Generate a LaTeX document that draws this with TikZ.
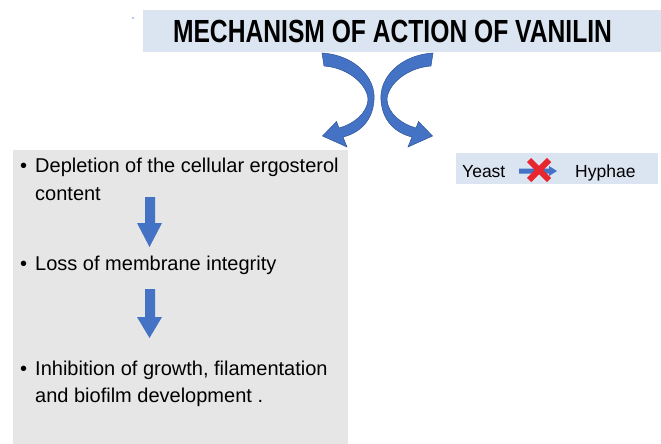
\documentclass[tikz,border=0pt]{standalone}
\usepackage{fontspec}
\setmainfont{Liberation Sans}
\definecolor{titlebg}{HTML}{DBE5F1}
\definecolor{graybg}{HTML}{E6E6E6}
\definecolor{arrowblue}{HTML}{4472C4}
\definecolor{arrowedge}{HTML}{2F5597}
\definecolor{xred}{HTML}{E8262E}
\tikzset{
  panel/.style={anchor=north west, inner sep=0pt, outer sep=0pt},
  bodytext/.style={anchor=base west, inner sep=0pt, font=\fontsize{20}{24}\selectfont},
  bullet/.style={anchor=base west, inner sep=0pt, font=\fontsize{20}{24}\selectfont},
  smalltext/.style={anchor=base west, inner sep=0pt, font=\fontsize{17.5}{20}\selectfont},
  blockarrow/.style={fill=arrowblue, draw=arrowedge, line width=0.5pt},
}
\begin{document}
\begin{tikzpicture}[x=1pt,y=-1pt]
\useasboundingbox (0,0) rectangle (661,444);
\fill[white] (0,0) rectangle (661,444);

% title
\node[panel, fill=titlebg, minimum width=518pt, minimum height=42pt] (titlebox) at (143,10) {};
\node[anchor=base, inner sep=0pt, font=\fontsize{32}{36}\selectfont\bfseries] (title) at (392.5,43) {\scalebox{0.77}[1]{MECHANISM OF ACTION OF VANILIN}};
\fill[arrowblue!50] (133,18) circle (1.1);

% curved arrows
\path[blockarrow] (322,53) .. controls (355,55) and (376,78) .. (374,100)
  .. controls (373,120) and (360,133) .. (343,137) -- (347,147) -- (322.5,136) -- (336.5,121.5) -- (339,128)
  .. controls (354,124) and (367,113) .. (368,100) .. controls (368,86) and (350,68) .. (324,66) -- cycle;
\begin{scope}[xshift=755pt, xscale=-1]
\path[blockarrow] (322,53) .. controls (355,55) and (376,78) .. (374,100)
  .. controls (373,120) and (360,133) .. (343,137) -- (347,147) -- (322.5,136) -- (336.5,121.5) -- (339,128)
  .. controls (354,124) and (367,113) .. (368,100) .. controls (368,86) and (350,68) .. (324,66) -- cycle;
\end{scope}

% left panel
\node[panel, fill=graybg, minimum width=335pt, minimum height=294pt] (graybox) at (13,150) {};
\node[bullet] (b1) at (20,172) {•};
\node[bodytext] (d1) at (35,172) {Depletion of the cellular ergosterol};
\node[bodytext] (d2) at (35,200) {content};
\node[bullet] (b2) at (20,270) {•};
\node[bodytext] (l1) at (35,270) {Loss of membrane integrity};
\node[bullet] (b3) at (20,375) {•};
\node[bodytext] (i1) at (35,375) {Inhibition of growth, filamentation};
\node[bodytext] (i2) at (35,402) {and biofilm development .};

\fill[arrowblue] (145,197) -- (155,197) -- (155,223) -- (162,223) -- (149.5,247) -- (137,223) -- (145,223) -- cycle;
\fill[arrowblue] (145,289) -- (155,289) -- (155,317) -- (162,317) -- (149.5,338) -- (137,317) -- (145,317) -- cycle;

% right panel
\node[panel, fill=titlebg, minimum width=202pt, minimum height=31pt] (rightbox) at (456,153) {};
\node[smalltext] (yeast) at (462,177) {Yeast};
\node[smalltext] (hyphae) at (575,177) {Hyphae};
\fill[arrowblue] (519,168.5) -- (549,168.5) -- (549,166) -- (557,171) -- (549,176) -- (549,173.5) -- (519,173.5) -- cycle;
\draw[xred, line width=6pt] (529,160) -- (549,180);
\draw[xred, line width=6pt] (549,160) -- (529,180);
\end{tikzpicture}
\end{document}
